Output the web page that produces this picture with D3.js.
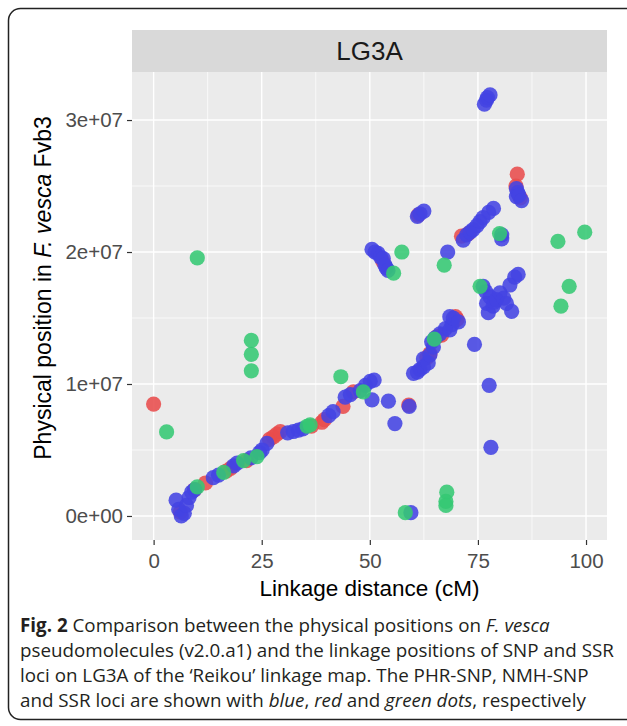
<!DOCTYPE html>
<html>
<head>
<meta charset="utf-8">
<script src="https://cdn.jsdelivr.net/npm/d3@7"></script>
<style>
  body { margin: 0; background: #fff; }
  svg { display: block; }
</style>
</head>
<body>
<script>
// data: linkage position (cM) and physical position (bp) for each marker type
const bluePHR = [
  [5.2,0.12e7],[5.8,0.05e7],[6.4,0.0e7],[7.1,0.02e7],[7.6,0.08e7],[8.2,0.14e7],[8.8,0.18e7],[9.5,0.2e7],
  [13.8,0.29e7],[15,0.31e7],[18.5,0.38e7],[19.3,0.40e7],[22.5,0.44e7],[24.5,0.48e7],[25.1,0.50e7],[26.2,0.55e7],
  [31,0.63e7],[32.3,0.64e7],[33.5,0.65e7],[34.5,0.66e7],[40.5,0.76e7],[41.5,0.79e7],[44.3,0.90e7],[45.5,0.92e7],
  [47.8,0.95e7],[49,0.99e7],[50.1,1.02e7],[51,1.03e7],[50.5,0.88e7],
  [54.3,0.87e7],[55.8,0.70e7],[59.1,0.83e7],[59.5,0.025e7],
  [50.5,2.02e7],[51.2,2.0e7],[51.9,1.99e7],[52.5,1.96e7],[53.1,1.95e7],[53.8,1.88e7],[53.5,1.90e7],[54.2,1.86e7],
  [61.0,2.27e7],[61.6,2.29e7],[62.5,2.31e7],
  [60.1,1.08e7],[61.0,1.09e7],[61.6,1.11e7],[62.4,1.13e7],[62.4,1.19e7],[63.5,1.16e7],[63.9,1.22e7],[64.3,1.32e7],
  [64.7,1.28e7],[65.1,1.35e7],[66.2,1.38e7],[67.5,1.42e7],[68.5,1.41e7],[69.0,1.45e7],[68.5,1.51e7],[69.3,1.50e7],[70.5,1.47e7],
  [74.2,1.30e7],[77.6,0.99e7],[78.0,0.52e7],
  [76.2,1.74e7],[76.8,1.70e7],[77.8,1.66e7],[77.0,1.61e7],[77.4,1.54e7],[78.5,1.59e7],[78.8,1.62e7],[79.3,1.64e7],
  [80.1,1.69e7],[81.0,1.65e7],[81.6,1.61e7],[82.8,1.55e7],[82.4,1.75e7],[83.5,1.81e7],[84.3,1.83e7],
  [68.0,2.00e7],[71.6,2.09e7],[72.4,2.13e7],[73.2,2.15e7],[73.9,2.17e7],[74.8,2.20e7],[75.5,2.23e7],[76.2,2.26e7],
  [77.5,2.30e7],[78.6,2.33e7],[80.5,2.13e7],[80.5,2.10e7],
  [83.9,2.48e7],[84.2,2.45e7],[83.9,2.42e7],[84.5,2.43e7],[85.1,2.39e7],
  [76.5,3.12e7],[77.0,3.15e7],[77.2,3.17e7],[77.8,3.19e7]
];
const redNMH = [
  [0,0.848e7],[6.2,0.03e7],[9.5,0.2e7],[12.0,0.25e7],[16.8,0.34e7],[17.8,0.36e7],[21.5,0.42e7],
  [26.8,0.58e7],[27.7,0.60e7],[28.5,0.62e7],[29.3,0.64e7],[36.5,0.68e7],[38.9,0.71e7],[39.5,0.73e7],
  [43.8,0.83e7],[46.2,0.94e7],[59.0,0.84e7],[61.2,2.28e7],[53.0,1.93e7],[71.2,2.12e7],[72.8,2.14e7],
  [84.1,2.59e7],[84.8,2.41e7],[83.8,2.50e7],[63.2,1.20e7],[63.9,1.23e7],[65.6,1.36e7],[66.6,1.37e7],
  [69.8,1.51e7],[70.2,1.49e7]
];
const greenSSR = [
  [3.0,0.637e7],[10.1,1.955e7],[22.6,1.33e7],[22.6,1.225e7],[22.6,1.10e7],[43.3,1.055e7],
  [10.1,0.22e7],[16.2,0.33e7],[20.8,0.42e7],[23.9,0.45e7],[35.5,0.68e7],[36.2,0.69e7],[48.5,0.94e7],
  [55.5,1.84e7],[57.4,2.00e7],[67.2,1.90e7],[75.5,1.74e7],[80.0,2.14e7],
  [93.5,2.08e7],[99.7,2.15e7],[96.1,1.74e7],[94.2,1.59e7],
  [67.8,0.18e7],[67.6,0.11e7],[67.6,0.08e7],[58.2,0.025e7],[64.9,1.34e7]
];
const xTicks = [0, 25, 50, 75, 100];
const xMinor = [12.5, 37.5, 62.5, 87.5];
const yTicks = [0, 1e7, 2e7, 3e7];
const yTickLabels = ['0e+00', '1e+07', '2e+07', '3e+07'];
const yMinor = [0.5e7, 1.5e7, 2.5e7];
const panelTitle = 'LG3A';

const width = 627, height = 726;
const panelLeft = 132, panelRight = 607, panelTop = 72, panelBottom = 540;

const svg = d3.select('body').append('svg')
  .attr('width', width)
  .attr('height', height);

// rounded frame around the figure
svg.append('rect')
  .attr('x', 8.5).attr('y', 8.5)
  .attr('width', 650).attr('height', 711)
  .attr('rx', 12)
  .attr('fill', 'none')
  .attr('stroke', '#222')
  .attr('stroke-width', 1.5);

const xScale = d3.scaleLinear().domain([-5, 104.85]).range([panelLeft, panelRight]);
const yScale = d3.scaleLinear().domain([-0.182e7, 3.364e7]).range([panelBottom, panelTop]);

// strip + panel
svg.append('rect')
  .attr('x', panelLeft).attr('y', 30)
  .attr('width', panelRight - panelLeft).attr('height', panelTop - 30)
  .attr('fill', '#d9d9d9');
svg.append('text')
  .attr('x', (panelLeft + panelRight) / 2).attr('y', 60)
  .attr('text-anchor', 'middle')
  .attr('font-family', 'Liberation Sans, Arial, sans-serif')
  .attr('font-size', 26)
  .attr('fill', '#1a1a1a')
  .text(panelTitle);

svg.append('rect')
  .attr('x', panelLeft).attr('y', panelTop)
  .attr('width', panelRight - panelLeft).attr('height', panelBottom - panelTop)
  .attr('fill', '#ebebeb');

const grid = svg.append('g');
grid.selectAll('.xminor').data(xMinor).enter().append('line')
  .attr('x1', d => xScale(d)).attr('x2', d => xScale(d))
  .attr('y1', panelTop).attr('y2', panelBottom)
  .attr('stroke', '#fff').attr('stroke-width', 0.7);
grid.selectAll('.yminor').data(yMinor).enter().append('line')
  .attr('y1', d => yScale(d)).attr('y2', d => yScale(d))
  .attr('x1', panelLeft).attr('x2', panelRight)
  .attr('stroke', '#fff').attr('stroke-width', 0.7);
grid.selectAll('.xmajor').data(xTicks).enter().append('line')
  .attr('x1', d => xScale(d)).attr('x2', d => xScale(d))
  .attr('y1', panelTop).attr('y2', panelBottom)
  .attr('stroke', '#fff').attr('stroke-width', 1.4);
grid.selectAll('.ymajor').data(yTicks).enter().append('line')
  .attr('y1', d => yScale(d)).attr('y2', d => yScale(d))
  .attr('x1', panelLeft).attr('x2', panelRight)
  .attr('stroke', '#fff').attr('stroke-width', 1.4);

// points: red first, then blue, then green
const layers = [
  { data: redNMH, color: '#e84c4c' },
  { data: bluePHR, color: '#4343e2' },
  { data: greenSSR, color: '#34c873' }
];
layers.forEach(layer => {
  svg.append('g').selectAll('circle')
    .data(layer.data)
    .enter()
    .append('circle')
    .attr('cx', d => xScale(d[0]))
    .attr('cy', d => yScale(d[1]))
    .attr('r', 7.6)
    .attr('fill', layer.color)
    .attr('fill-opacity', 0.88);
});

// axes
const xAxis = d3.axisBottom(xScale).tickValues(xTicks).tickSize(5).tickPadding(4);
const yAxis = d3.axisLeft(yScale).tickValues(yTicks)
  .tickFormat((d, i) => yTickLabels[i]).tickSize(5).tickPadding(4);

const gx = svg.append('g')
  .attr('transform', 'translate(0,' + panelBottom + ')')
  .call(xAxis);
const gy = svg.append('g')
  .attr('transform', 'translate(' + panelLeft + ',0)')
  .call(yAxis);
[gx, gy].forEach(g => {
  g.select('.domain').remove();
  g.selectAll('.tick line').attr('stroke', '#333').attr('stroke-width', 1.2);
  g.selectAll('.tick text')
    .attr('fill', '#4d4d4d')
    .attr('font-family', 'Liberation Sans, Arial, sans-serif')
    .attr('font-size', 20.5);
});
gx.selectAll('.tick text').attr('dy', '0.95em');

// axis titles
svg.append('text')
  .attr('x', (panelLeft + panelRight) / 2).attr('y', 596)
  .attr('text-anchor', 'middle')
  .attr('font-family', 'Liberation Sans, Arial, sans-serif')
  .attr('font-size', 22.5)
  .text('Linkage distance (cM)');

const ytitle = svg.append('text')
  .attr('transform', 'translate(51,288) rotate(-90)')
  .attr('text-anchor', 'middle')
  .attr('font-family', 'Liberation Sans, Arial, sans-serif')
  .attr('font-size', 23);
ytitle.append('tspan').text('Physical position in ');
ytitle.append('tspan').attr('font-style', 'italic').text('F. vesca');
ytitle.append('tspan').text(' Fvb3');

// caption
const captionLines = [
  [['Fig. 2', 'bold'], [' Comparison between the physical positions on ', ''], ['F. vesca', 'italic']],
  [['pseudomolecules (v2.0.a1) and the linkage positions of SNP and SSR', '']],
  [['loci on LG3A of the \u2018Reikou\u2019 linkage map. The PHR-SNP, NMH-SNP', '']],
  [['and SSR loci are shown with ', ''], ['blue', 'italic'], [', ', ''], ['red', 'italic'], [' and ', ''], ['green dots', 'italic'], [', respectively', '']]
];
captionLines.forEach((line, i) => {
  const t = svg.append('text')
    .attr('x', 20).attr('y', 632 + i * 25)
    .attr('font-family', 'Open Sans, sans-serif')
    .attr('font-size', 18.8)
    .attr('fill', '#231f20');
  line.forEach(seg => {
    const s = t.append('tspan').text(seg[0]);
    if (seg[1] === 'bold') s.attr('font-weight', 'bold');
    if (seg[1] === 'italic') s.attr('font-style', 'italic');
  });
});
</script>
</body>
</html>
